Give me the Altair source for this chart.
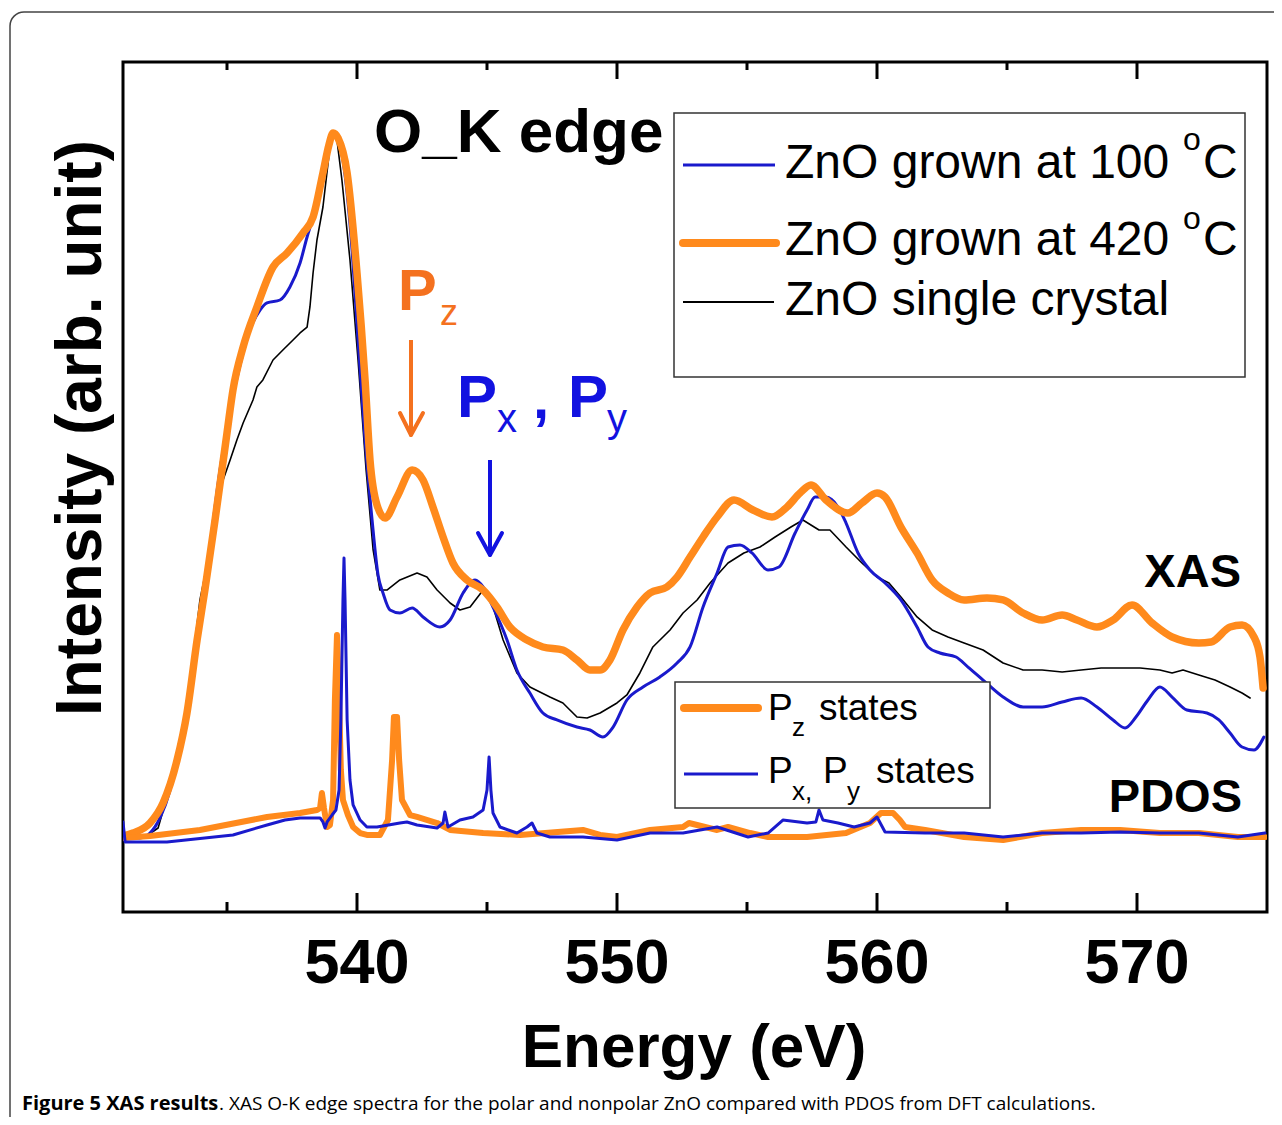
import altair as alt
import pandas as pd

# ---------------- data (energy in eV, intensity in arb. units) ----------------
xas420_e = [531.0, 531.38, 532.04, 532.54, 533.08, 533.46, 533.85, 534.15, 534.54, 535.0,
            535.23, 535.62, 536.15, 536.77, 537.31, 537.92, 538.31, 538.69, 538.92, 539.08,
            539.27, 539.62, 540.0, 540.31, 540.5, 540.77, 541.08, 541.54, 542.12, 542.54,
            542.92, 543.31, 543.69, 544.23, 544.85, 545.38, 545.88, 546.54, 547.15, 547.92,
            548.46, 548.96, 549.35, 549.73, 550.23, 550.77, 551.27, 551.92, 552.31, 552.81,
            553.31, 553.85, 554.5, 555.23, 555.96, 556.54, 557.04, 557.46, 558.04, 558.88,
            559.42, 560.0, 560.31, 560.92, 561.54, 562.12, 562.73, 563.35, 564.23, 564.85,
            565.62, 566.35, 567.12, 567.69, 568.46, 569.08, 569.81, 570.58, 571.35, 572.38,
            572.85, 573.58, 574.04, 574.5, 574.73, 574.85]
xas420_i = [8.94, 9.29, 10.47, 12.82, 17.88, 23.41, 32.0, 37.88, 46.12, 56.35,
            61.41, 66.47, 71.18, 75.88, 77.53, 79.88, 81.76, 86.94, 90.24, 91.65,
            91.06, 86.94, 75.18, 62.59, 53.18, 47.88, 46.35, 48.82, 52.0, 50.82,
            47.65, 44.12, 41.06, 39.06, 37.88, 35.88, 33.53, 32.0, 31.18, 30.82,
            29.65, 28.47, 28.47, 29.65, 33.18, 35.88, 37.53, 38.24, 39.41, 41.76,
            44.12, 46.47, 48.47, 47.29, 46.47, 47.65, 49.29, 50.24, 48.47, 46.94,
            48.12, 49.29, 48.82, 45.29, 42.24, 39.06, 37.53, 36.71, 36.94, 36.71,
            35.18, 34.35, 34.94, 34.35, 33.53, 34.35, 36.12, 34.0, 32.35, 31.65,
            31.76, 33.53, 33.76, 32.35, 30.0, 26.35]

xas100_e = [531.0, 531.65, 532.04, 532.42, 532.81, 533.19, 533.58, 533.96, 534.35, 534.73,
            535.12, 535.5, 535.88, 536.27, 536.54, 537.04, 537.42, 537.81, 538.08, 538.31,
            538.69, 538.92, 539.08, 539.27, 539.54, 539.81, 540.04, 540.31, 540.58, 540.81,
            541.0, 541.27, 541.65, 542.12, 542.54, 543.19, 543.58, 544.08, 544.54, 544.85,
            545.23, 545.77, 546.15, 546.65, 547.15, 547.69, 548.46, 548.96, 549.46, 549.85,
            550.38, 551.0, 551.65, 552.31, 552.81, 553.31, 553.85, 554.27, 554.73, 555.19,
            555.81, 556.23, 556.85, 557.31, 557.62, 558.04, 558.5, 558.81, 559.27, 559.73,
            560.31, 560.92, 561.54, 561.96, 562.42, 563.04, 563.5, 564.08, 564.85, 565.62,
            566.35, 567.12, 567.85, 568.46, 569.08, 569.54, 569.96, 570.42, 570.88, 571.35,
            571.92, 572.69, 573.15, 573.58, 574.04, 574.5, 574.88]
xas100_i = [8.71, 8.71, 9.29, 11.06, 14.35, 19.88, 26.35, 34.94, 43.18, 52.0,
            59.06, 64.35, 68.47, 70.82, 71.65, 72.0, 73.53, 76.35, 79.41, 81.76,
            86.94, 90.24, 91.41, 90.82, 86.71, 77.88, 67.29, 55.53, 46.12, 39.65,
            37.53, 35.53, 35.18, 35.76, 34.71, 33.53, 34.35, 37.53, 39.06, 38.24,
            35.88, 32.0, 28.47, 25.76, 23.41, 22.59, 21.76, 21.41, 20.59, 21.76,
            24.94, 26.47, 27.65, 29.29, 31.18, 35.88, 39.88, 42.94, 43.18, 42.24,
            40.24, 40.59, 44.59, 47.29, 48.82, 48.82, 47.65, 45.76, 42.24, 40.24,
            38.71, 36.71, 33.53, 31.18, 30.47, 30.0, 28.82, 27.29, 25.29, 24.12,
            24.12, 24.71, 25.18, 24.12, 22.59, 21.65, 22.94, 24.94, 26.47, 25.29,
            23.76, 23.41, 22.59, 21.06, 19.41, 19.06, 20.59]

xtal_e = [531.96, 532.35, 532.69, 533.19, 533.58, 533.96, 534.27, 534.54, 534.85, 535.12,
          535.38, 535.62, 536.0, 536.15, 536.38, 536.77, 537.15, 537.54, 537.81, 538.08,
          538.19, 538.31, 538.46, 538.69, 538.96, 539.08, 539.23, 539.42, 539.73, 540.04,
          540.35, 540.62, 540.88, 541.15, 541.65, 542.31, 542.69, 543.08, 543.58, 543.96,
          544.35, 544.85, 545.12, 545.62, 546.15, 546.65, 547.42, 547.92, 548.46, 548.85,
          549.35, 550.0, 550.38, 550.88, 551.38, 552.04, 552.54, 553.08, 553.58, 554.27,
          554.88, 555.5, 556.08, 556.69, 557.15, 557.77, 558.19, 558.81, 559.42, 560.0,
          560.46, 560.92, 561.54, 562.12, 562.73, 563.35, 564.08, 564.85, 565.62, 566.35,
          567.12, 567.85, 568.62, 569.35, 570.12, 570.88, 571.35, 571.77, 572.38, 573.0,
          573.58, 574.04, 574.35]
xtal_i = [9.06, 9.88, 13.53, 19.88, 26.94, 36.71, 41.41, 47.29, 50.82, 53.18,
          55.53, 57.53, 60.24, 61.76, 62.59, 64.94, 66.12, 67.29, 68.12, 68.82,
          71.18, 75.18, 79.06, 82.94, 90.0, 91.65, 90.82, 86.12, 76.71, 64.94,
          52.0, 42.59, 37.88, 37.88, 39.06, 39.88, 39.41, 37.88, 36.35, 35.53,
          35.88, 37.88, 37.06, 32.0, 28.12, 26.47, 25.29, 24.59, 22.94, 22.82,
          23.41, 24.59, 25.53, 28.12, 31.18, 33.18, 35.18, 36.71, 38.71, 41.06,
          42.24, 42.94, 44.12, 45.29, 46.12, 44.94, 44.94, 42.94, 41.06, 39.41,
          38.71, 37.06, 34.71, 33.18, 32.35, 31.65, 30.82, 29.29, 28.47, 28.47,
          28.24, 28.47, 28.71, 28.71, 28.71, 28.47, 28.12, 28.47, 27.88, 27.29,
          26.47, 25.76, 25.18]

pz_e = [531.0, 532.04, 533.96, 536.54, 537.81, 538.46, 538.58, 538.65, 538.73,
        538.85, 538.96, 539.08, 539.15, 539.23, 539.31, 539.38, 539.46, 539.65, 539.85,
        540.12, 540.38, 540.88, 541.19, 541.35, 541.42, 541.54, 541.62, 541.73, 542.04,
        542.31, 543.08, 543.58, 544.85, 546.27, 548.69, 549.35, 550.0, 551.27, 552.54,
        552.77, 553.85, 554.27, 555.12, 555.81, 557.31, 558.81, 559.73, 560.15, 560.62,
        560.88, 561.08, 561.85, 563.35, 564.85, 566.35, 567.85, 569.35, 570.88, 572.38,
        573.88, 574.92]
pz_i = [8.71, 8.94, 9.65, 11.18, 11.65, 12.0, 12.24, 14.0, 12.24,
        10.0, 10.24, 13.18, 24.94, 32.59, 24.94, 16.71, 13.18, 11.41, 10.0,
        9.29, 9.06, 9.06, 10.82, 17.88, 22.94, 22.94, 17.88, 13.18, 11.41,
        11.18, 10.47, 9.65, 9.29, 9.06, 9.65, 9.06, 8.82, 9.65, 10.0,
        10.47, 9.65, 10.0, 9.29, 8.82, 8.82, 9.29, 10.47, 11.65, 11.65,
        10.82, 10.0, 9.65, 8.82, 8.47, 9.29, 9.65, 9.65, 9.29, 9.29,
        8.82, 8.82]

pxy_e = [531.0, 531.08, 532.69, 535.23, 536.54, 537.23, 537.81, 538.58, 538.69, 538.77,
         538.85, 539.04, 539.19, 539.31, 539.38, 539.46, 539.5, 539.54, 539.62, 539.73,
         539.85, 540.12, 540.38, 540.77, 541.65, 541.92, 542.31, 543.08, 543.31, 543.38,
         543.5, 543.96, 544.46, 544.85, 545.0, 545.08, 545.15, 545.23, 545.5, 546.15,
         546.54, 546.73, 546.92, 547.42, 548.69, 550.0, 551.27, 552.54, 553.85, 555.04,
         555.81, 556.38, 557.31, 557.65, 557.77, 557.92, 558.5, 559.12, 559.73, 560.0,
         560.31, 561.85, 563.35, 564.85, 566.35, 567.85, 569.35, 570.88, 572.38, 573.88,
         574.92]
pxy_i = [10.59, 8.24, 8.24, 9.06, 10.24, 10.82, 11.06, 11.06, 10.59, 9.88,
         10.59, 11.41, 12.0, 14.35, 22.59, 36.71, 41.65, 36.71, 22.59, 15.53,
         12.59, 10.82, 10.0, 10.0, 10.47, 10.59, 10.24, 9.88, 10.47, 11.76,
         10.0, 10.82, 11.18, 12.0, 14.35, 18.24, 14.35, 11.65, 10.0, 9.29,
         10.0, 10.47, 9.29, 8.82, 8.82, 8.47, 9.29, 9.29, 10.0, 8.82,
         9.29, 10.82, 10.47, 10.59, 12.0, 10.82, 10.47, 10.0, 10.47, 11.18,
         9.41, 9.29, 9.29, 8.82, 9.29, 9.29, 9.41, 9.29, 9.29, 8.82,
         9.29]

major_ticks = [540, 550, 560, 570]
major_labels = ["540", "550", "560", "570"]
minor_ticks = [535, 545, 555, 565]

# ---------------- style ----------------
FONT = "Liberation Sans, Arial, Helvetica, sans-serif"
CAPFONT = "Open Sans, Liberation Sans, sans-serif"
ORANGE = "#FF8A1C"
ORANGE_TXT = "#F4711F"
BLUE = "#1A1ACC"
BLUE_TXT = "#1212E0"

W, H = 1144, 850
OX, OY = 123, 62  # page position of plot origin


def px(x):
    return x - OX


def py(y):
    return y - OY


xenc = alt.X("E:Q", scale=alt.Scale(domain=[531, 575], nice=False, zero=False), axis=None)
yenc = alt.Y("I:Q", scale=alt.Scale(domain=[0, 100], nice=False, zero=False), axis=None)


def series(e, i, color, width, interp="linear"):
    df = pd.DataFrame({"E": e, "I": i})
    return alt.Chart(df).mark_line(color=color, strokeWidth=width, clip=True, interpolate=interp,
                                   strokeJoin="round", strokeCap="round").encode(x=xenc, y=yenc)


def txt(s, x, y, size, color="black", weight="normal", align="left", angle=0, font=FONT):
    return alt.Chart(pd.DataFrame({"t": [s]})).mark_text(
        align=align, baseline="alphabetic", fontSize=size, fontWeight=weight,
        color=color, font=font, angle=angle
    ).encode(text="t:N", x=alt.value(px(x)), y=alt.value(py(y)))


def seg(x1, y1, x2, y2, color, width, cap="butt"):
    return alt.Chart(pd.DataFrame({"d": [0]})).mark_rule(
        color=color, strokeWidth=width, strokeCap=cap
    ).encode(x=alt.value(px(x1)), y=alt.value(py(y1)), x2=alt.value(px(x2)), y2=alt.value(py(y2)))


def box(x1, y1, x2, y2, stroke, width, radius=0, opacity=1):
    return alt.Chart(pd.DataFrame({"d": [0]})).mark_rect(
        stroke=stroke, strokeWidth=width, cornerRadius=radius, fill="white", fillOpacity=opacity
    ).encode(x=alt.value(px(x1)), y=alt.value(py(y1)), x2=alt.value(px(x2)), y2=alt.value(py(y2)))


layers = []
# outer rounded figure frame
layers.append(box(10, 12, 1300, 1140, "#444444", 1.5, radius=14, opacity=0))

# spectra
layers.append(series(xtal_e, xtal_i, "black", 1.6))
layers.append(series(xas100_e, xas100_i, BLUE, 3, "monotone"))
layers.append(series(xas420_e, xas420_i, ORANGE, 7.5, "monotone"))
layers.append(series(pz_e, pz_i, ORANGE, 6))
layers.append(series(pxy_e, pxy_i, BLUE, 3))

# inward ticks (bottom and top)
tmaj = pd.DataFrame({"E": major_ticks})
tmin = pd.DataFrame({"E": minor_ticks})
for df, ln in ((tmaj, 19), (tmin, 10)):
    layers.append(alt.Chart(df).mark_rule(color="black", strokeWidth=3).encode(
        x=xenc, y=alt.value(H), y2=alt.value(H - ln)))
    layers.append(alt.Chart(df).mark_rule(color="black", strokeWidth=3).encode(
        x=xenc, y=alt.value(0), y2=alt.value(ln - 2)))

# tick labels
layers.append(alt.Chart(pd.DataFrame({"E": major_ticks, "lab": major_labels})).mark_text(
    align="center", baseline="alphabetic", fontSize=63, fontWeight="bold", font=FONT, color="black"
).encode(x=xenc, y=alt.value(py(983)), text="lab:N"))

# axis titles
layers.append(txt("Energy (eV)", 694, 1067, 62, weight="bold", align="center"))
layers.append(txt("Intensity (arb. unit)", 101, 428, 64, weight="bold", align="center", angle=270))

# main legend
layers.append(box(674, 113, 1245, 377, "#333333", 1.5))
layers.append(seg(683, 165, 775, 165, BLUE, 3))
layers.append(seg(683, 243, 776, 243, ORANGE, 8, cap="round"))
layers.append(seg(683, 302, 774, 302, "black", 2))
layers.append(txt("ZnO grown at 100", 785, 178, 48))
layers.append(txt("o", 1183, 150, 32))
layers.append(txt("C", 1203, 178, 48))
layers.append(txt("ZnO grown at 420", 785, 255, 48))
layers.append(txt("o", 1183, 229, 32))
layers.append(txt("C", 1203, 255, 48))
layers.append(txt("ZnO single crystal", 785, 315, 48))

# PDOS legend
layers.append(box(675, 682, 990, 808, "#333333", 1.5))
layers.append(seg(684, 708, 758, 708, ORANGE, 8, cap="round"))
layers.append(seg(684, 774, 758, 774, BLUE, 3))
layers.append(txt("P", 768, 720, 37))
layers.append(txt("z", 792, 736, 26))
layers.append(txt("states", 819, 720, 37))
layers.append(txt("P", 768, 783, 37))
layers.append(txt("x,", 792, 800, 26))
layers.append(txt("P", 823, 783, 37))
layers.append(txt("y", 847, 800, 26))
layers.append(txt("states", 876, 783, 37))

# annotations
layers.append(txt("O_K edge", 374, 152, 62, weight="bold"))
layers.append(txt("P", 398, 310, 58, color=ORANGE_TXT, weight="bold"))
layers.append(txt("z", 440, 325, 36, color=ORANGE_TXT))
layers.append(seg(411, 340, 411, 433, ORANGE_TXT, 4))
layers.append(seg(400, 413, 411, 435, ORANGE_TXT, 4, cap="round"))
layers.append(seg(423, 413, 411, 435, ORANGE_TXT, 4, cap="round"))

layers.append(txt("P", 457, 417, 60, color=BLUE_TXT, weight="bold"))
layers.append(txt("x", 497, 432, 40, color=BLUE_TXT))
layers.append(txt(",", 533, 418, 58, color=BLUE_TXT, weight="bold"))
layers.append(txt("P", 568, 417, 60, color=BLUE_TXT, weight="bold"))
layers.append(txt("y", 607, 432, 40, color=BLUE_TXT))
layers.append(seg(490, 460, 490, 553, BLUE_TXT, 4))
layers.append(seg(478, 533, 490, 555, BLUE_TXT, 4, cap="round"))
layers.append(seg(502, 533, 490, 555, BLUE_TXT, 4, cap="round"))

layers.append(txt("XAS", 1241, 587, 47, weight="bold", align="right"))
layers.append(txt("PDOS", 1242, 812, 47, weight="bold", align="right"))

# caption
layers.append(txt("Figure 5 XAS results", 22, 1110, 20, weight="bold", font=CAPFONT))
layers.append(txt(". XAS O-K edge spectra for the polar and nonpolar ZnO compared with PDOS from DFT calculations.",
                  219, 1110, 19, font=CAPFONT))

chart = alt.layer(*layers).properties(
    width=W, height=H,
    autosize=alt.AutoSizeParams(type="none"),
    padding={"left": 115, "top": 54, "right": 7, "bottom": 205},
    background="white",
).configure_view(stroke="black", strokeWidth=3)

chart.save("out.html", embed_options={"renderer": "svg", "actions": False})
